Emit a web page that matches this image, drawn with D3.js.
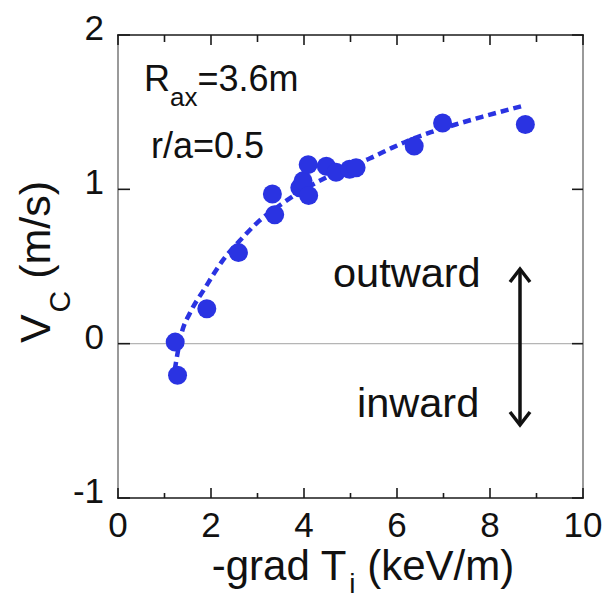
<!DOCTYPE html>
<html>
<head>
<meta charset="utf-8">
<script src="https://cdn.jsdelivr.net/npm/d3@7"></script>
<style>
  html, body { margin: 0; padding: 0; background: #fff; }
  svg { display: block; font-family: "Liberation Sans", Arial, Helvetica, sans-serif; }
</style>
</head>
<body>
<svg id="chart" width="608" height="606"></svg>
<script>
// Measured convection velocity vs. ion temperature gradient
const gradTi = [1.23, 1.28, 1.91, 2.59, 3.32, 3.37, 3.91, 3.98, 4.10, 4.09, 4.48, 4.69, 4.98, 5.12, 6.37, 6.98, 8.76];
const vc     = [0.01, -0.205, 0.226, 0.59, 0.97, 0.835, 1.01, 1.055, 0.96, 1.16, 1.15, 1.11, 1.13, 1.14, 1.28, 1.43, 1.42];

// Fitted trend (dashed)
const fitX = [1.22, 1.37, 1.55, 1.87, 2.23, 2.69, 2.98, 3.52, 4.0, 4.5, 5.0, 5.41, 5.9, 6.2, 6.73, 7.26, 7.83, 8.7];
const fitY = [-0.17, 0.07, 0.2, 0.36, 0.53, 0.69, 0.78, 0.905, 1.0, 1.08, 1.15, 1.2, 1.27, 1.31, 1.37, 1.42, 1.47, 1.54];

const xTicks = [0, 2, 4, 6, 8, 10];
const xMinorTicks = [1, 3, 5, 7, 9];
const yTicks = [-1, 0, 1, 2];

const svg = d3.select("#chart");
const L = 118, R = 583, T = 35, B = 498;
const x = d3.scaleLinear().domain([0, 10]).range([L, R]);
const y = d3.scaleLinear().domain([-1, 2]).range([B, T]);

const blue = "#2a33e2";
const dark = "#1a1a1a";
const grey = "#9a9a9a";

// zero reference line
svg.append("line")
  .attr("x1", L).attr("x2", R).attr("y1", y(0)).attr("y2", y(0))
  .attr("stroke", "#b5b5b5").attr("stroke-width", 1.2);

// frame
svg.append("line").attr("x1", L).attr("x2", L).attr("y1", T).attr("y2", B)
  .attr("stroke", grey).attr("stroke-width", 2);
svg.append("line").attr("x1", R).attr("x2", R).attr("y1", T).attr("y2", B)
  .attr("stroke", grey).attr("stroke-width", 2);
svg.append("line").attr("x1", L - 1).attr("x2", R + 1).attr("y1", T).attr("y2", T)
  .attr("stroke", dark).attr("stroke-width", 1.6);
svg.append("line").attr("x1", L - 1).attr("x2", R + 1).attr("y1", B).attr("y2", B)
  .attr("stroke", dark).attr("stroke-width", 1.6);

// x ticks (bottom and top, pointing inward)
const tickG = svg.append("g").attr("stroke", dark).attr("stroke-width", 1.6);
xTicks.forEach(v => {
  tickG.append("line").attr("x1", x(v)).attr("x2", x(v)).attr("y1", B).attr("y2", B - 10);
  tickG.append("line").attr("x1", x(v)).attr("x2", x(v)).attr("y1", T).attr("y2", T + 10);
});
xMinorTicks.forEach(v => {
  tickG.append("line").attr("x1", x(v)).attr("x2", x(v)).attr("y1", B).attr("y2", B - 5);
  tickG.append("line").attr("x1", x(v)).attr("x2", x(v)).attr("y1", T).attr("y2", T + 7);
});
// y ticks (left and right)
yTicks.forEach(v => {
  tickG.append("line").attr("x1", L).attr("x2", L + 12).attr("y1", y(v)).attr("y2", y(v));
  tickG.append("line").attr("x1", R).attr("x2", R - 11).attr("y1", y(v)).attr("y2", y(v));
});

// tick labels
svg.append("g").selectAll("text").data(xTicks).join("text")
  .attr("x", d => x(d)).attr("y", 537)
  .attr("text-anchor", "middle")
  .attr("font-size", 35).attr("fill", "#111")
  .text(d => d);
svg.append("g").selectAll("text").data(yTicks).join("text")
  .attr("x", 104).attr("y", d => y(d) + 5)
  .attr("text-anchor", "end")
  .attr("font-size", 35).attr("fill", "#111")
  .text(d => d);

// axis titles
const xt = svg.append("text")
  .attr("x", 363).attr("y", 580)
  .attr("text-anchor", "middle")
  .attr("font-size", 42).attr("fill", "#111");
xt.append("tspan").text("-grad T");
xt.append("tspan").attr("font-size", 28).attr("dy", 13).attr("dx", 3).text("i");
xt.append("tspan").attr("dy", -13).text(" (keV/m)");

const yt = svg.append("text")
  .attr("transform", `translate(50,${262}) rotate(-90)`)
  .attr("text-anchor", "middle")
  .attr("font-size", 43).attr("fill", "#111");
yt.append("tspan").text("V");
yt.append("tspan").attr("font-size", 30).attr("dy", 20).attr("dx", 2).text("C");
yt.append("tspan").attr("dy", -20).text(" (m/s)");

// fitted curve
const fitPts = fitX.map((v, i) => [v, fitY[i]]);
svg.append("path")
  .datum(fitPts)
  .attr("d", d3.line().x(d => x(d[0])).y(d => y(d[1])).curve(d3.curveMonotoneX))
  .attr("fill", "none")
  .attr("stroke", blue)
  .attr("stroke-width", 4.5)
  .attr("stroke-dasharray", "8,5");

// data points
svg.append("g").selectAll("circle").data(gradTi.map((v, i) => [v, vc[i]])).join("circle")
  .attr("cx", d => x(d[0])).attr("cy", d => y(d[1]))
  .attr("r", 9.5)
  .attr("fill", blue);

// annotations
const ann = svg.append("text").attr("x", 144).attr("y", 91)
  .attr("font-size", 36).attr("fill", "#111");
ann.append("tspan").text("R");
ann.append("tspan").attr("font-size", 26).attr("dy", 15).text("ax");
ann.append("tspan").attr("dy", -15).text("=3.6m");

svg.append("text").attr("x", 151).attr("y", 158)
  .attr("font-size", 36).attr("fill", "#111").text("r/a=0.5");

svg.append("text").attr("x", 333).attr("y", 287)
  .attr("font-size", 41.5).attr("fill", "#111").text("outward");
svg.append("text").attr("x", 357).attr("y", 417)
  .attr("font-size", 41.5).attr("fill", "#111").text("inward");

// double-headed arrow
const ax = 520, aTop = 269, aBot = 425;
svg.append("line").attr("x1", ax).attr("x2", ax).attr("y1", aTop).attr("y2", aBot)
  .attr("stroke", "#111").attr("stroke-width", 3.5);
svg.append("path")
  .attr("d", `M${ax - 10},${aTop + 13} L${ax},${aTop} L${ax + 10},${aTop + 13}`)
  .attr("fill", "none").attr("stroke", "#111").attr("stroke-width", 3.5)
  .attr("stroke-linejoin", "miter");
svg.append("path")
  .attr("d", `M${ax - 10},${aBot - 13} L${ax},${aBot} L${ax + 10},${aBot - 13}`)
  .attr("fill", "none").attr("stroke", "#111").attr("stroke-width", 3.5)
  .attr("stroke-linejoin", "miter");
</script>
</body>
</html>
